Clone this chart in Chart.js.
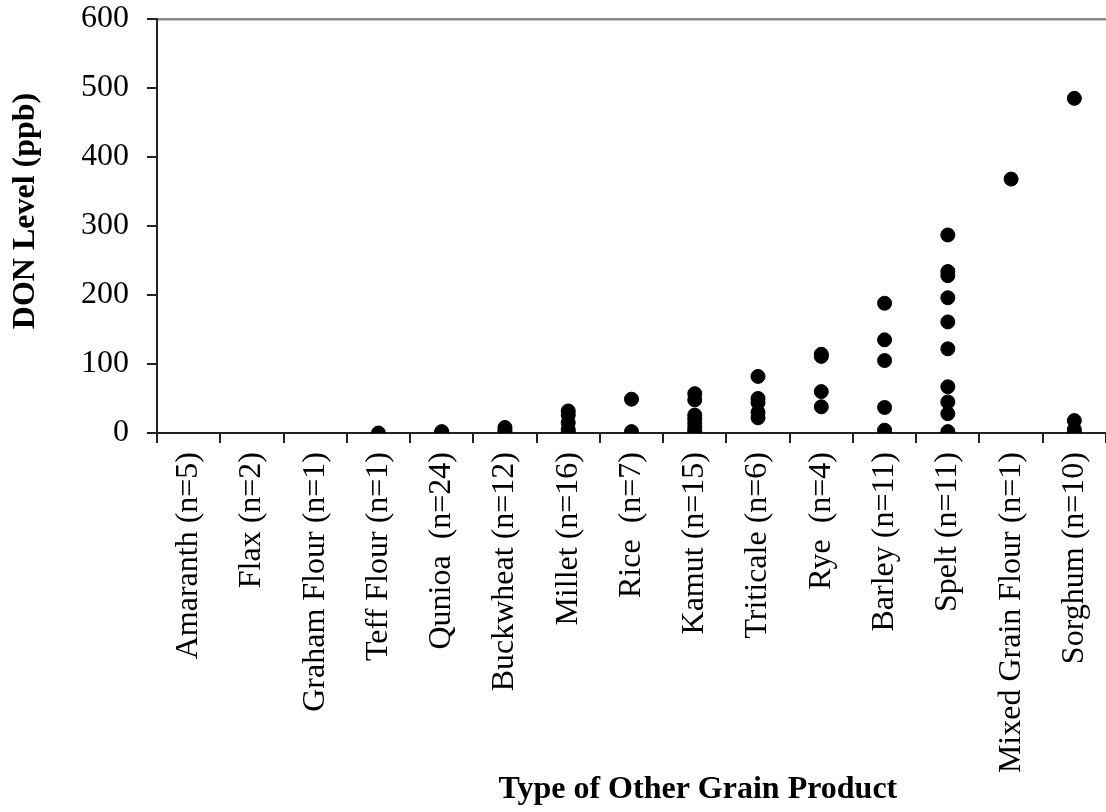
<!DOCTYPE html>
<html>
<head>
<meta charset="utf-8">
<title>DON Level by Type of Other Grain Product</title>
<script src="https://cdn.jsdelivr.net/npm/chart.js@4.4.0/dist/chart.umd.min.js"></script>
<style>
  html, body { margin: 0; padding: 0; background: #fff; }
  #wrap { width: 1106px; height: 812px; }
</style>
</head>
<body>
<div id="wrap"><canvas id="chart" width="1106" height="812"></canvas></div>
<script>
// Product categories, in plotting order
const categories = [
  'Amaranth (n=5)', 'Flax (n=2)', 'Graham Flour (n=1)', 'Teff Flour (n=1)',
  'Qunioa  (n=24)', 'Buckwheat (n=12)', 'Millet (n=16)', 'Rice  (n=7)',
  'Kamut (n=15)', 'Triticale (n=6)', 'Rye  (n=4)', 'Barley (n=11)',
  'Spelt (n=11)', 'Mixed Grain Flour (n=1)', 'Sorghum (n=10)'
];

// DON levels (ppb) measured in each product type
const amaranth = [];
const flax = [];
const grahamFlour = [];
const teffFlour = [0];
const quinoa = [2, 1, 0];
const buckwheat = [8, 4, 1];
const millet = [32, 26, 15, 5, 1];
const rice = [49, 2];
const kamut = [57, 48, 26, 20, 14, 8, 3, 0];
const triticale = [82, 50, 44, 30, 22];
const rye = [114, 111, 60, 38];
const barley = [188, 135, 105, 37, 4];
const spelt = [287, 234, 228, 196, 161, 122, 67, 45, 28, 2];
const mixedGrainFlour = [368];
const sorghum = [485, 18, 5, 0];

// Y axis ticks
const yTicks = [0, 100, 200, 300, 400, 500, 600];

const seriesByCategory = [
  amaranth, flax, grahamFlour, teffFlour, quinoa, buckwheat, millet, rice,
  kamut, triticale, rye, barley, spelt, mixedGrainFlour, sorghum
];

const points = [];
seriesByCategory.forEach((vals, i) => {
  vals.forEach(v => points.push({ x: categories[i], y: v }));
});

const FONT = 'Liberation Serif';
const FSIZE = 32;

// Axis titles, drawn in the margins left for them
const axisTitlesPlugin = {
  id: 'axisTitles',
  afterDraw(chart) {
    const ctx = chart.ctx;
    const area = chart.chartArea;
    ctx.save();
    ctx.font = 'bold ' + FSIZE + 'px "' + FONT + '"';
    ctx.fillStyle = '#000';
    ctx.textAlign = 'center';
    ctx.textBaseline = 'middle';
    // horizontal axis title
    ctx.fillText('Type of Other Grain Product', chart.width * 0.631, chart.height - 22);
    // vertical axis title
    ctx.translate(26, (area.top + area.bottom) / 2 - 15);
    ctx.rotate(-Math.PI / 2);
    ctx.fillText('DON Level (ppb)', 0, 0);
    ctx.restore();
  }
};

new Chart(document.getElementById('chart'), {
  type: 'line',
  data: {
    labels: categories,
    datasets: [{
      data: points,
      showLine: false,
      pointRadius: 7,
      pointHoverRadius: 7,
      pointBorderWidth: 1,
      pointBackgroundColor: '#000',
      pointBorderColor: '#000'
    }]
  },
  options: {
    responsive: false,
    animation: false,
    layout: { autoPadding: false, padding: { top: 0, right: 0, left: 82, bottom: 40 } },
    plugins: { legend: { display: false }, tooltip: { enabled: false } },
    scales: {
      x: {
        type: 'category',
        offset: true,
        grid: {
          offset: true, drawOnChartArea: false, drawTicks: true,
          tickLength: 10, color: '#222', lineWidth: 2
        },
        border: { color: '#222', width: 2 },
        ticks: {
          autoSkip: false, minRotation: 90, maxRotation: 90,
          padding: 9, color: '#000',
          font: { family: FONT, size: FSIZE }
        },
        afterFit(scale) {
          scale.height = 339;
          scale.paddingRight = 0;
          scale.paddingLeft = 0;
        }
      },
      xTop: {
        type: 'category',
        position: 'top',
        display: true,
        grid: { display: false, drawTicks: false },
        ticks: { display: false },
        border: { color: '#8a8a8a', width: 2.5 }
      },
      y: {
        min: 0, max: 600,
        afterBuildTicks(scale) { scale.ticks = yTicks.map(v => ({ value: v })); },
        grid: {
          drawOnChartArea: false, drawTicks: true,
          tickLength: 10, color: '#222', lineWidth: 2
        },
        border: { color: '#222', width: 2 },
        ticks: {
          padding: 18, color: '#000',
          font: { family: FONT, size: FSIZE }
        },
        afterFit(scale) {
          scale.width = 75;
          scale.paddingTop = 19;
          scale.paddingBottom = 0;
        }
      }
    }
  },
  plugins: [axisTitlesPlugin]
});
</script>
</body>
</html>
